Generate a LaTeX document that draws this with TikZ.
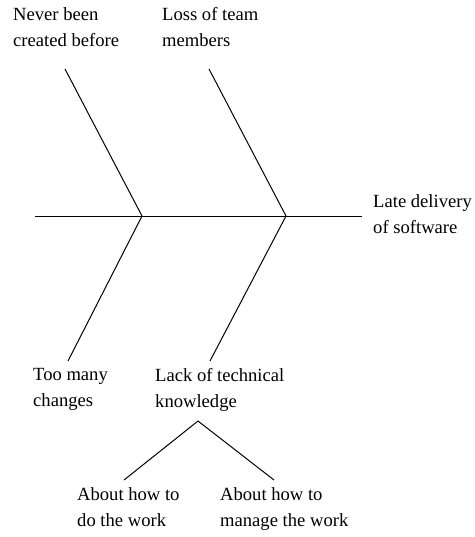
\documentclass[tikz,border=0pt]{standalone}
\usepackage{fontspec}
\setmainfont{Liberation Serif}
\begin{document}
\begin{tikzpicture}[x=1pt,y=-1pt,
  lbl/.style={anchor=north west, align=left, inner sep=0pt, font=\fontsize{18.6}{26}\selectfont},
  bone/.style={line width=1pt}]
\useasboundingbox (0,0) rectangle (474,537);
% spine
\coordinate (tail) at (35,216);
\coordinate (head) at (362,216);
\coordinate (j1) at (142,216);
\coordinate (j2) at (286,216);
% bone ends
\coordinate (ul) at (65,69);
\coordinate (ur) at (209,69);
\coordinate (ll) at (68,361);
\coordinate (lr) at (210,361);
\coordinate (apex) at (198,421);
\coordinate (sl) at (124,480);
\coordinate (sr) at (274,480);
% labels
\node[lbl] (never) at (13,7) {Never been\\created before};
\node[lbl] (loss) at (162,7) {Loss of team\\members};
\node[lbl] (late) at (373,194) {Late delivery\\of software};
\node[lbl] (too) at (33,368) {Too many\\changes};
\node[lbl] (lack) at (155,368) {Lack of technical\\knowledge};
\node[lbl] (do) at (77,487) {About how to\\do the work};
\node[lbl] (manage) at (220,487) {About how to\\manage the work};
% lines
\draw[bone] (tail) -- (head);
\draw[bone] (ul) -- (j1) -- (ll);
\draw[bone] (ur) -- (j2) -- (lr);
\draw[bone] (sl) -- (apex) -- (sr);
\end{tikzpicture}
\end{document}
